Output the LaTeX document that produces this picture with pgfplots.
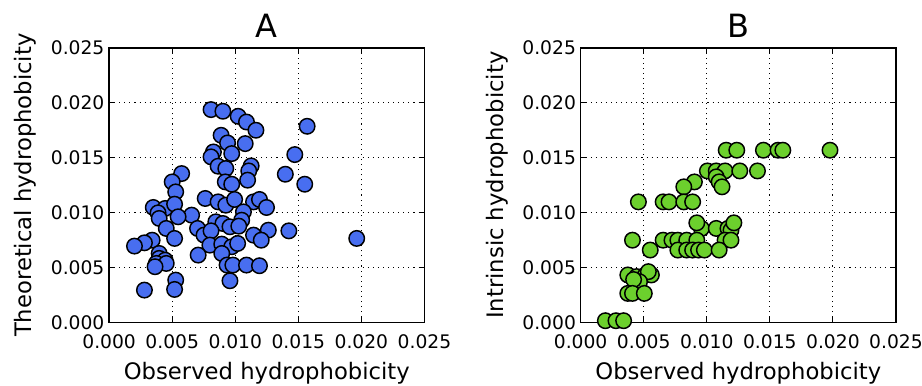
\documentclass[border=0pt]{standalone}
\usepackage{pgfplots}
\pgfplotsset{compat=1.18}
\usepackage{fontspec}
\setmainfont{DejaVu Sans}
\definecolor{ablue}{RGB}{72,110,240}
\definecolor{bgreen}{RGB}{108,208,45}
\pgfplotsset{
  hpanel/.style={
    scale only axis, width=236.25pt, height=205.5pt,
    xmin=0, xmax=0.025, ymin=0, ymax=0.025,
    xtick={0,0.005,...,0.025}, ytick={0,0.005,...,0.025},
    xticklabels={0.000,0.005,0.010,0.015,0.020,0.025},
    yticklabels={0.000,0.005,0.010,0.015,0.020,0.025},
    scaled ticks=false,
    /pgf/number format/assume math mode=true,
    tick label style={font=\fontsize{14}{16}\selectfont},
    xticklabel style={yshift=-6pt},
    label style={font=\fontsize{17}{20}\selectfont},
    title style={font=\fontsize{24}{28}\selectfont, yshift=-2pt},
    tick align=inside, tick pos=both,
    major tick length=4pt,
    tick style={black, line width=0.8pt},
    axis line style={line width=1.1pt},
    grid=major,
    major grid style={black, line width=0.8pt, dash pattern=on 0.8pt off 3pt},
    xlabel={Observed hydrophobicity},
    xlabel style={yshift=-3pt},
    ylabel style={yshift=4pt},
    clip=false,
  }
}
\begin{document}
\begin{tikzpicture}
\begin{axis}[hpanel, name=A, title={A}, ylabel={Theoretical hydrophobicity}]
\addplot[only marks, mark=*, mark size=5.8pt, mark options={fill=ablue, draw=black, line width=1.1pt}] coordinates {
(0.00808,0.01939)(0.00902,0.01924)(0.01023,0.01878)(0.01089,0.01826)(0.01164,0.01751)
(0.01570,0.01787)(0.00888,0.01705)(0.00939,0.01635)(0.01079,0.01629)(0.00827,0.01553)
(0.00808,0.01508)(0.00972,0.01538)(0.01472,0.01529)(0.00864,0.01423)(0.00925,0.01402)
(0.01126,0.01426)(0.01107,0.01380)(0.01397,0.01350)(0.00575,0.01356)(0.00500,0.01280)
(0.00921,0.01280)(0.00972,0.01259)(0.01098,0.01296)(0.01551,0.01259)(0.00528,0.01189)
(0.00762,0.01129)(0.00864,0.01098)(0.00925,0.01068)(0.00995,0.01120)(0.01145,0.01098)
(0.01192,0.01120)(0.01248,0.01047)(0.00350,0.01047)(0.00444,0.01038)(0.00388,0.00998)
(0.00519,0.01077)(0.00654,0.00977)(0.00547,0.00962)(0.00397,0.00947)(0.01065,0.01007)
(0.01051,0.00931)(0.00453,0.00856)(0.00701,0.00856)(0.00846,0.00916)(0.00902,0.00901)
(0.00958,0.00871)(0.01028,0.00877)(0.01262,0.00840)(0.01425,0.00834)(0.00752,0.00795)
(0.00808,0.00834)(0.01145,0.00795)(0.01206,0.00749)(0.00519,0.00765)(0.00341,0.00749)
(0.00280,0.00725)(0.00201,0.00695)(0.00799,0.00704)(0.00893,0.00713)(0.00972,0.00689)
(0.01019,0.00719)(0.01963,0.00765)(0.00397,0.00628)(0.00706,0.00613)(0.00893,0.00628)
(0.00397,0.00583)(0.00444,0.00567)(0.00374,0.00537)(0.00453,0.00537)(0.00935,0.00522)
(0.00981,0.00522)(0.01089,0.00522)(0.01192,0.00516)(0.00364,0.00507)(0.00528,0.00385)
(0.00958,0.00379)(0.00519,0.00300)(0.00280,0.00294)
};
\end{axis}
\begin{axis}[hpanel, name=B, at={(353.25pt,0pt)}, title={B}, ylabel={Intrinsic hydrophobicity}]
\addplot[only marks, mark=*, mark size=5.8pt, mark options={fill=bgreen, draw=black, line width=1.1pt}] coordinates {
(0.01977,0.01569)(0.01154,0.01569)(0.01238,0.01569)(0.01449,0.01569)(0.01565,0.01569)(0.01603,0.01569)
(0.01005,0.01380)(0.01075,0.01380)(0.01145,0.01380)(0.01262,0.01380)(0.01402,0.01380)
(0.01075,0.01326)(0.01098,0.01280)(0.01121,0.01235)(0.00902,0.01280)(0.00818,0.01235)
(0.00458,0.01098)(0.00654,0.01098)(0.00701,0.01098)(0.00818,0.01098)(0.00888,0.01098)
(0.00958,0.00856)(0.01075,0.00856)(0.01168,0.00856)(0.01192,0.00840)(0.00921,0.00907)(0.01215,0.00907)
(0.00411,0.00749)(0.00654,0.00749)(0.00724,0.00749)(0.00771,0.00749)(0.00841,0.00749)(0.00921,0.00749)(0.01145,0.00749)(0.01192,0.00749)
(0.00552,0.00659)(0.00771,0.00659)(0.00841,0.00659)(0.00888,0.00659)(0.00935,0.00659)(0.00981,0.00659)(0.01098,0.00659)
(0.00374,0.00432)(0.00444,0.00417)(0.00514,0.00432)(0.00561,0.00432)(0.00537,0.00462)(0.00467,0.00370)(0.00420,0.00390)
(0.00374,0.00264)(0.00411,0.00264)(0.00505,0.00264)
(0.00196,0.00015)(0.00280,0.00015)(0.00341,0.00015)
};
\end{axis}
\pgfresetboundingbox
\path[use as bounding box] ([xshift=-81.75pt,yshift=-47.25pt]A.south west) rectangle ([xshift=19.5pt,yshift=36pt]B.north east);
\end{tikzpicture}
\end{document}
